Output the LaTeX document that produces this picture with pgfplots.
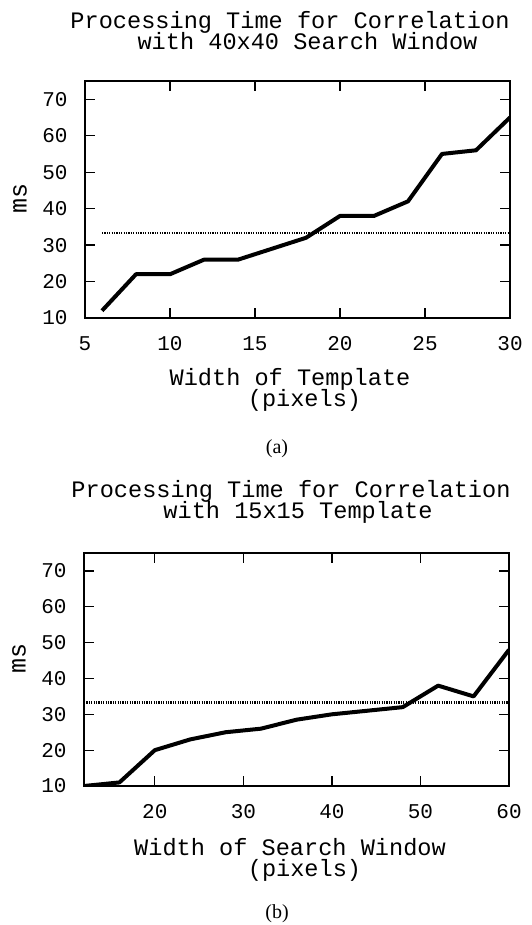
\documentclass[border=0pt]{standalone}
\usepackage{fontspec}
\setmainfont{Liberation Mono}
\newfontfamily\serifcap{Liberation Serif}
\usepackage{pgfplots}
\pgfplotsset{compat=1.18}
\pgfplotsset{
  myax/.style={
    scale only axis, width=212.5pt, anchor=south west,
    axis line style={line width=0.65pt},
    every tick/.style={black, line width=0.65pt},
    major tick length=5pt,
    ymin=10, ymax=75, ytick={10,20,...,70},
    /pgf/number format/assume math mode=true,
    tick label style={font=\fontsize{10.5}{12}\selectfont},
    xticklabel style={anchor=base, yshift=-16pt},
    yticklabel style={anchor=east, inner sep=0pt, xshift=-8.5pt},
  },
  dataline/.style={black, line width=2pt, line join=round},
  refline/.style={black, line width=1.3pt, dash pattern=on 0.6pt off 0.6pt},
}
\newcommand{\tfont}{\fontsize{11.8}{12}\selectfont}
\begin{document}
\begin{tikzpicture}
\path[use as bounding box] (0,0) rectangle (265.5pt,-462.5pt);

% ---------- (a) ----------
\begin{axis}[myax, at={(42.5pt,-159pt)}, height=118.5pt,
  xmin=5, xmax=30, xtick={5,10,...,30}]
\addplot[refline] coordinates {(6,33.3) (30,33.3)};
\addplot[dataline] coordinates {
 (6,12) (8,22) (10,22) (12,26) (14,26) (16,29) (18,32)
 (20,38) (22,38) (24,42) (26,55) (28,56) (30,65)};
\end{axis}
\node[anchor=base, font=\tfont, inner sep=0pt] at (145pt,-14.5pt) {Processing Time for Correlation};
\node[anchor=base, font=\tfont, inner sep=0pt] at (153.75pt,-25pt) {with 40x40 Search Window};
\node[rotate=90, font=\fontsize{12.5}{13}\selectfont, inner sep=0pt] at (10pt,-99pt) {ms};
\node[anchor=base, font=\tfont, inner sep=0pt] at (145pt,-192.5pt) {Width of Template};
\node[anchor=base, font=\tfont, inner sep=0pt] at (152.25pt,-203pt) {(pixels)};
\node[anchor=base, font=\serifcap\fontsize{10}{12}\selectfont, inner sep=0pt] at (138.5pt,-226.5pt) {(a)};

% ---------- (b) ----------
\begin{axis}[myax, at={(42pt,-393pt)}, height=116.5pt,
  xmin=12, xmax=60, xtick={20,30,...,60}]
\addplot[refline] coordinates {(12,33.3) (60,33.3)};
\addplot[dataline] coordinates {
 (12,10) (16,11) (20,20) (24,23) (28,25) (32,26) (36,28.5)
 (40,30) (44,31) (48,32) (52,38) (56,35) (60,48)};
\end{axis}
\node[anchor=base, font=\tfont, inner sep=0pt] at (145.5pt,-248.5pt) {Processing Time for Correlation};
\node[anchor=base, font=\tfont, inner sep=0pt] at (149pt,-259pt) {with 15x15 Template};
\node[rotate=90, font=\fontsize{12.5}{13}\selectfont, inner sep=0pt] at (9.5pt,-329pt) {ms};
\node[anchor=base, font=\tfont, inner sep=0pt] at (145pt,-427.5pt) {Width of Search Window};
\node[anchor=base, font=\tfont, inner sep=0pt] at (152.25pt,-438pt) {(pixels)};
\node[anchor=base, font=\serifcap\fontsize{10}{12}\selectfont, inner sep=0pt] at (138.5pt,-459pt) {(b)};
\end{tikzpicture}
\end{document}
